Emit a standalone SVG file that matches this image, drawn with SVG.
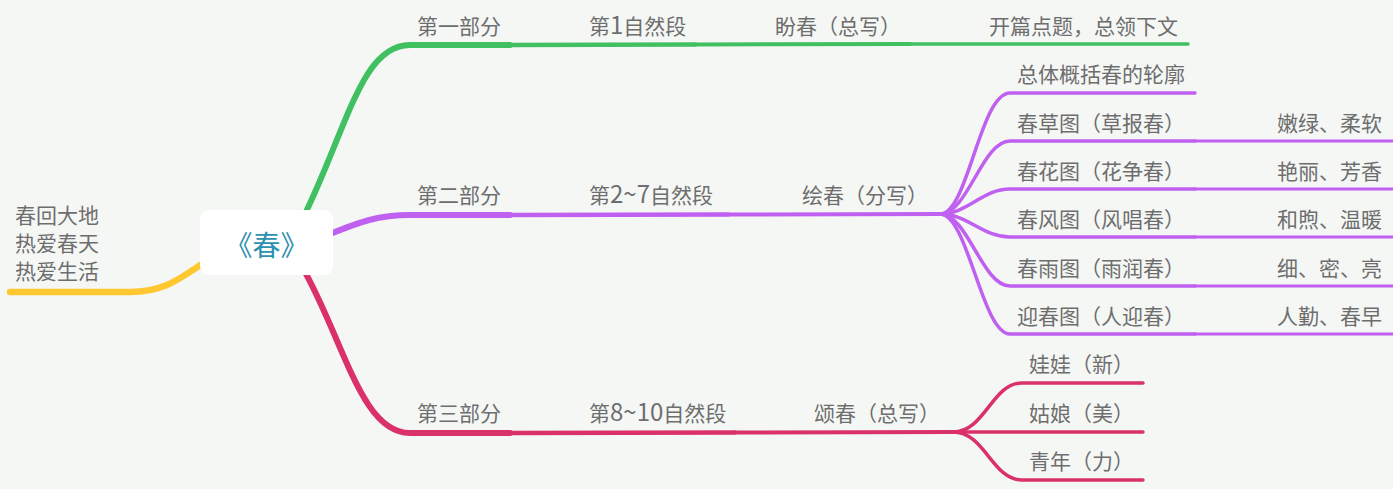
<svg xmlns="http://www.w3.org/2000/svg" width="1393" height="489" viewBox="0 0 1393 489">
<style>
.t{font-family:"Noto Sans CJK SC","Noto Sans",sans-serif;font-size:21px;fill:#6e6e6e}
.n{font-size:24px}
.c{fill:none;stroke-linecap:round;stroke-linejoin:round}
.g{stroke:#40c060}
.p{stroke:#c060f0}
.r{stroke:#da316b}
.y{stroke:#ffc730}
</style>
<rect width="1393" height="489" fill="#f5f7f5"/>
<g id="connectors">
<path class="c y" d="M205,262 C180,278 165,292 130,292 L10,292" stroke-width="6.5"/>
<path class="c g" d="M305,214 C348,125 362,45 410,45 L510,45" stroke-width="6"/>
<path class="c g" d="M510,45 L695,44.5" stroke-width="4.5"/>
<path class="c g" d="M695,44.5 L910,44" stroke-width="4"/>
<path class="c g" d="M910,44 L1188,44" stroke-width="3.5"/>
<path class="c p" d="M330,234 C360,222 378,215 410,215 L510,215" stroke-width="6"/>
<path class="c p" d="M510,215 L728,214.5" stroke-width="4.5"/>
<path class="c p" d="M728,214.5 L940,214" stroke-width="4"/>
<path class="c p" d="M940,214 C968,214 980,93 1010,93 L1195,93" stroke-width="3.5"/>
<path class="c p" d="M940,214 C968,214 982,141 1010,141 L1195,141" stroke-width="3.5"/>
<path class="c p" d="M940,214 C968,214 982,189 1010,189 L1195,189" stroke-width="3.5"/>
<path class="c p" d="M940,214 C968,214 982,237 1010,237 L1195,237" stroke-width="3.5"/>
<path class="c p" d="M940,214 C968,214 982,286 1010,286 L1195,286" stroke-width="3.5"/>
<path class="c p" d="M940,214 C968,214 982,334 1010,334 L1195,334" stroke-width="3.5"/>
<path class="c p" d="M1195,141 L1393,141" stroke-width="3"/>
<path class="c p" d="M1195,189 L1393,189" stroke-width="3"/>
<path class="c p" d="M1195,237 L1393,237" stroke-width="3"/>
<path class="c p" d="M1195,286 L1393,286" stroke-width="3"/>
<path class="c p" d="M1195,334 L1393,334" stroke-width="3"/>
<path class="c r" d="M305,272 C345,345 362,433 410,433 L510,433" stroke-width="6"/>
<path class="c r" d="M510,433 L735,432.5" stroke-width="4.5"/>
<path class="c r" d="M735,432.5 L953,432" stroke-width="4"/>
<path class="c r" d="M953,432 C985,432 992,383 1022,383 L1143,383" stroke-width="3.5"/>
<path class="c r" d="M953,432 L1143,432" stroke-width="3.5"/>
<path class="c r" d="M953,432 C985,432 992,480 1022,480 L1143,480" stroke-width="3.5"/>
</g>
<g id="root">
<rect x="200" y="210" width="133" height="65" rx="9" fill="#ffffff"/>
<text x="266.5" y="256" text-anchor="middle" font-family="Noto Sans CJK SC, sans-serif" font-size="28" fill="#2d90ae">《春》</text>
</g>
<g id="summary"><text class="t"><tspan x="15" y="223">春回大地</tspan><tspan x="15" y="251">热爱春天</tspan><tspan x="15" y="279">热爱生活</tspan></text></g>
<g id="part1"><text class="t" x="417" y="34">第一部分</text></g>
<g id="para1"><text class="t" x="589" y="34">第<tspan class="n">1</tspan>自然段</text></g>
<g id="panchun"><text class="t" x="775" y="34">盼春（总写）</text></g>
<g id="kaipian"><text class="t" x="989" y="34">开篇点题，总领下文</text></g>
<g id="part2"><text class="t" x="417" y="203">第二部分</text></g>
<g id="para2"><text class="t" x="589" y="203">第<tspan class="n">2~7</tspan>自然段</text></g>
<g id="huichun"><text class="t" x="802" y="203">绘春（分写）</text></g>
<g id="zongti"><text class="t" x="1017" y="82">总体概括春的轮廓</text></g>
<g id="chuncao"><text class="t" x="1017" y="131">春草图（草报春）</text></g>
<g id="chuncao-d"><text class="t" x="1382" y="131" text-anchor="end">嫩绿、柔软</text></g>
<g id="chunhua"><text class="t" x="1017" y="179">春花图（花争春）</text></g>
<g id="chunhua-d"><text class="t" x="1382" y="179" text-anchor="end">艳丽、芳香</text></g>
<g id="chunfeng"><text class="t" x="1017" y="227">春风图（风唱春）</text></g>
<g id="chunfeng-d"><text class="t" x="1382" y="227" text-anchor="end">和煦、温暖</text></g>
<g id="chunyu"><text class="t" x="1017" y="276">春雨图（雨润春）</text></g>
<g id="chunyu-d"><text class="t" x="1382" y="276" text-anchor="end">细、密、亮</text></g>
<g id="yingchun"><text class="t" x="1017" y="324">迎春图（人迎春）</text></g>
<g id="yingchun-d"><text class="t" x="1382" y="324" text-anchor="end">人勤、春早</text></g>
<g id="part3"><text class="t" x="417" y="421">第三部分</text></g>
<g id="para3"><text class="t" x="589" y="421">第<tspan class="n">8~10</tspan>自然段</text></g>
<g id="songchun"><text class="t" x="814" y="421">颂春（总写）</text></g>
<g id="wawa"><text class="t" x="1029" y="372">娃娃（新）</text></g>
<g id="guniang"><text class="t" x="1029" y="421">姑娘（美）</text></g>
<g id="qingnian"><text class="t" x="1029" y="469">青年（力）</text></g>
</svg>
